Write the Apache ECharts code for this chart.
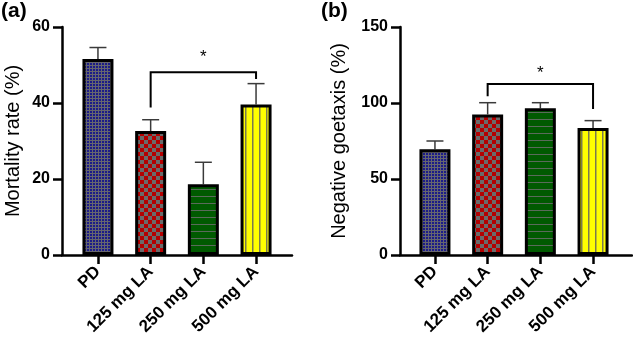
<!DOCTYPE html>
<html><head><meta charset="utf-8">
<script src="https://cdn.jsdelivr.net/npm/echarts@6/dist/echarts.min.js"></script>
<style>html,body{margin:0;padding:0;background:#fff}#c{width:633px;height:345px}</style>
</head><body><div id="c"></div>
<script>
// ---- data ----
var categories = ['PD', '125 mg LA', '250 mg LA', '500 mg LA'];
var mortality = [51.6, 32.6, 18.6, 39.6];
var mortalityErr = [3.0, 3.0, 5.8, 5.5];
var goetaxis = [69.5, 92.5, 96.5, 83.5];
var goetaxisErr = [5.5, 7.7, 3.7, 4.9];
var mortalityTicks = {min: 0, max: 60, interval: 20};
var goetaxisTicks = {min: 0, max: 150, interval: 50};
// bracket: [fromIndex, toIndex, topValue, leftEnd, rightEnd, starValue]
var mortalityBracket = [1, 3, 48.1, 38.8, 46.3, 52.1];
var goetaxisBracket = [1, 3, 112.5, 104.5, 96, 119.5];
var sigLabel = '*';

// ---- patterns ----
function mk(w, h, draw) {
  var c = document.createElement('canvas'); c.width = w; c.height = h;
  var g = c.getContext('2d'); draw(g, w, h); return c;
}
var patPD = mk(3, 3, function (g) {
  g.fillStyle = '#66666e'; g.fillRect(0, 0, 3, 3);
  g.fillStyle = '#1c1c88'; g.fillRect(0, 0, 2, 2);
});
var pat125 = mk(8, 8, function (g) {
  g.fillStyle = '#6a6a6a'; g.fillRect(0, 0, 8, 8);
  g.fillStyle = '#b40000'; g.fillRect(0, 0, 4, 4); g.fillRect(4, 4, 4, 4);
});
var pat250 = mk(4, 7, function (g) {
  g.fillStyle = '#005a00'; g.fillRect(0, 0, 4, 7);
  g.fillStyle = '#5a6a5a'; g.fillRect(0, 0, 4, 1);
});
var pat500 = mk(7, 4, function (g) {
  g.fillStyle = '#ffff00'; g.fillRect(0, 0, 7, 4);
  g.fillStyle = '#7a7a50'; g.fillRect(0, 0, 1.5, 4);
});
var pats = [patPD, pat125, pat250, pat500];

var chart = echarts.init(document.getElementById('c'));
var FONT = 'Liberation Sans, Arial, sans-serif';

function errSeries(vals, errs, xi, yi) {
  return {
    type: 'custom', xAxisIndex: xi, yAxisIndex: yi, z: 1,
    data: vals.map(function (v, i) { return [i, v, v + errs[i]]; }),
    renderItem: function (params, api) {
      var b = api.coord([api.value(0), api.value(1)]);
      var t = api.coord([api.value(0), api.value(2)]);
      var s = {stroke: '#3a3a3a', lineWidth: 1.5};
      return {type: 'group', children: [
        {type: 'line', shape: {x1: b[0], y1: b[1], x2: t[0], y2: t[1]}, style: s},
        {type: 'line', shape: {x1: t[0] - 8.5, y1: t[1], x2: t[0] + 8.5, y2: t[1]}, style: s}
      ]};
    }
  };
}
function bracketSeries(br, xi, yi) {
  return {
    type: 'custom', xAxisIndex: xi, yAxisIndex: yi, z: 5,
    data: [br],
    renderItem: function (params, api) {
      var l0 = api.coord([api.value(0), api.value(3)]);
      var lt = api.coord([api.value(0), api.value(2)]);
      var rt = api.coord([api.value(1), api.value(2)]);
      var r0 = api.coord([api.value(1), api.value(4)]);
      var st = api.coord([api.value(0), api.value(5)]);
      return {type: 'group', children: [
        {type: 'polyline', shape: {points: [l0, lt, rt, r0]}, style: {stroke: '#000', lineWidth: 2, fill: null}},
        {type: 'text', x: (lt[0] + rt[0]) / 2, y: st[1], style: {text: sigLabel, fontSize: 17, fontFamily: FONT, fill: '#000', align: 'center', verticalAlign: 'middle'}}
      ]};
    }
  };
}
function barSeries(vals, xi, yi) {
  return {
    type: 'bar', xAxisIndex: xi, yAxisIndex: yi, barWidth: 31, z: 3,
    data: vals.map(function (v, i) {
      return {value: v, itemStyle: {color: {image: pats[i], repeat: 'repeat'}, borderColor: '#000', borderWidth: 3}};
    })
  };
}

var frameX = {type: 'category', data: categories, boundaryGap: true,
  axisLine: {lineStyle: {color: '#000', width: 2.5}}, axisTick: {show: false}, axisLabel: {show: false}};
function frameY(t, name, gap) {
  return {type: 'value', min: t.min, max: t.max, interval: t.interval,
    axisLine: {show: true, lineStyle: {color: '#000', width: 2.5}},
    axisTick: {show: true, length: 9, lineStyle: {color: '#000', width: 2.5}},
    axisLabel: {color: '#000', fontSize: 16, fontWeight: 'bold', fontFamily: FONT, margin: 12},
    splitLine: {show: false},
    name: name, nameLocation: 'middle', nameGap: gap, nameRotate: 90,
    nameTextStyle: {color: '#000', fontSize: 20, fontFamily: FONT}};
}
function dataX() {
  return {type: 'category', data: categories, boundaryGap: true,
    axisLine: {show: false},
    axisTick: {show: true, alignWithLabel: true, length: 9, lineStyle: {color: '#000', width: 2.5}},
    axisLabel: {rotate: 45, color: '#000', fontSize: 17, fontWeight: 'bold', fontFamily: FONT, margin: 14, interval: 0}};
}
function dataY(t) {
  return {type: 'value', min: t.min, max: t.max, interval: t.interval, show: false, splitLine: {show: false}};
}

chart.setOption({
  animation: false,
  textStyle: {fontFamily: FONT},
  title: [
    {text: '(a)', left: 1, top: 1, padding: 0, textStyle: {fontSize: 21, fontWeight: 'bold', color: '#000', fontFamily: FONT}},
    {text: '(b)', left: 321, top: 1, padding: 0, textStyle: {fontSize: 21, fontWeight: 'bold', color: '#000', fontFamily: FONT}}
  ],
  grid: [
    {left: 62, top: 27, width: 230, height: 228},
    {left: 71.6, top: 27, width: 210.8, height: 228},
    {left: 400, top: 27, width: 232, height: 228},
    {left: 408.6, top: 27, width: 210.8, height: 228}
  ],
  xAxis: [
    Object.assign({gridIndex: 0}, frameX),
    Object.assign({gridIndex: 1}, dataX()),
    Object.assign({gridIndex: 2}, frameX),
    Object.assign({gridIndex: 3}, dataX())
  ],
  yAxis: [
    Object.assign({gridIndex: 0}, frameY(mortalityTicks, 'Mortality rate (%)', 39)),
    Object.assign({gridIndex: 1}, dataY(mortalityTicks)),
    Object.assign({gridIndex: 2}, frameY(goetaxisTicks, 'Negative goetaxis (%)', 51)),
    Object.assign({gridIndex: 3}, dataY(goetaxisTicks))
  ],
  series: [
    errSeries(mortality, mortalityErr, 1, 1),
    barSeries(mortality, 1, 1),
    bracketSeries(mortalityBracket, 1, 1),
    errSeries(goetaxis, goetaxisErr, 3, 3),
    barSeries(goetaxis, 3, 3),
    bracketSeries(goetaxisBracket, 3, 3)
  ]
});
</script></body></html>
